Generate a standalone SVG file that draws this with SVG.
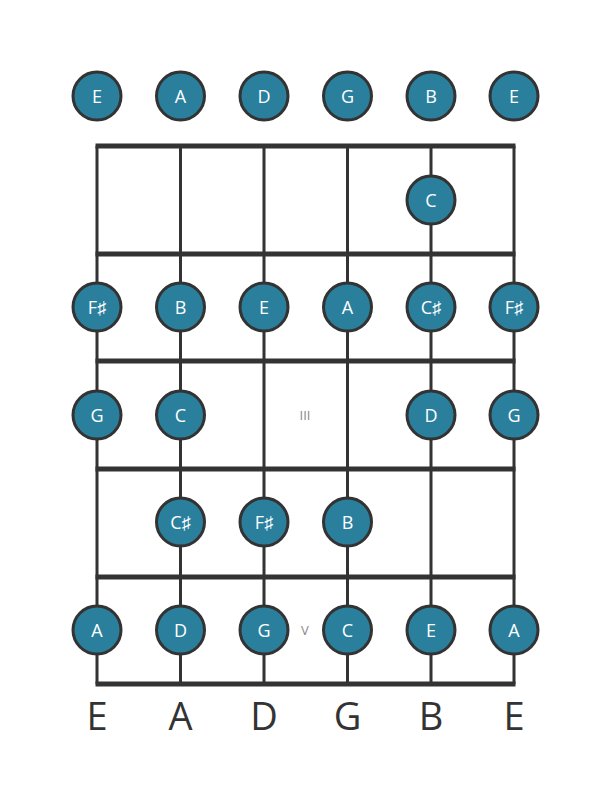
<svg xmlns="http://www.w3.org/2000/svg" width="611" height="801" viewBox="0 0 611 801">
<style>
.str{stroke:#333;stroke-width:3}
.fret{stroke:#333;stroke-width:5}
.n circle{fill:#2a7f9d;stroke:#333;stroke-width:3}
.n text{fill:#fff;font-family:"Open Sans",sans-serif;font-size:18px;text-anchor:middle;dominant-baseline:central}
.lbl{fill:#333;font-family:"Open Sans",sans-serif;font-size:38px;text-anchor:middle}
.pos{fill:#888;font-family:"Open Sans",sans-serif;font-size:13px;text-anchor:middle;dominant-baseline:central}
</style>
<rect width="611" height="801" fill="#fff"/>
<g id="connectors">
<line class="str" x1="97" y1="146" x2="97" y2="684"/>
<line class="str" x1="180.5" y1="146" x2="180.5" y2="684"/>
<line class="str" x1="264" y1="146" x2="264" y2="684"/>
<line class="str" x1="347.5" y1="146" x2="347.5" y2="684"/>
<line class="str" x1="431" y1="146" x2="431" y2="684"/>
<line class="str" x1="514" y1="146" x2="514" y2="684"/>
<line class="fret" x1="95.5" y1="146" x2="515.5" y2="146"/>
<line class="fret" x1="95.5" y1="254" x2="515.5" y2="254"/>
<line class="fret" x1="95.5" y1="361" x2="515.5" y2="361"/>
<line class="fret" x1="95.5" y1="469" x2="515.5" y2="469"/>
<line class="fret" x1="95.5" y1="577" x2="515.5" y2="577"/>
<line class="fret" x1="95.5" y1="684" x2="515.5" y2="684"/>
</g>
<text class="pos" x="305" y="415">III</text>
<text class="pos" x="305" y="630">V</text>
<g id="open-E1" class="n"><circle cx="97" cy="96" r="24"/><text x="97" y="96">E</text></g>
<g id="open-A" class="n"><circle cx="180.5" cy="96" r="24"/><text x="180.5" y="96">A</text></g>
<g id="open-D" class="n"><circle cx="264" cy="96" r="24"/><text x="264" y="96">D</text></g>
<g id="open-G" class="n"><circle cx="347.5" cy="96" r="24"/><text x="347.5" y="96">G</text></g>
<g id="open-B" class="n"><circle cx="431" cy="96" r="24"/><text x="431" y="96">B</text></g>
<g id="open-E2" class="n"><circle cx="514" cy="96" r="24"/><text x="514" y="96">E</text></g>
<g id="f1-B" class="n"><circle cx="431" cy="200" r="24"/><text x="431" y="200">C</text></g>
<g id="f2-E1" class="n"><circle cx="97" cy="307" r="24"/><text x="97" y="307">F♯</text></g>
<g id="f2-A" class="n"><circle cx="180.5" cy="307" r="24"/><text x="180.5" y="307">B</text></g>
<g id="f2-D" class="n"><circle cx="264" cy="307" r="24"/><text x="264" y="307">E</text></g>
<g id="f2-G" class="n"><circle cx="347.5" cy="307" r="24"/><text x="347.5" y="307">A</text></g>
<g id="f2-B" class="n"><circle cx="431" cy="307" r="24"/><text x="431" y="307">C♯</text></g>
<g id="f2-E2" class="n"><circle cx="514" cy="307" r="24"/><text x="514" y="307">F♯</text></g>
<g id="f3-E1" class="n"><circle cx="97" cy="415" r="24"/><text x="97" y="415">G</text></g>
<g id="f3-A" class="n"><circle cx="180.5" cy="415" r="24"/><text x="180.5" y="415">C</text></g>
<g id="f3-B" class="n"><circle cx="431" cy="415" r="24"/><text x="431" y="415">D</text></g>
<g id="f3-E2" class="n"><circle cx="514" cy="415" r="24"/><text x="514" y="415">G</text></g>
<g id="f4-A" class="n"><circle cx="180.5" cy="522" r="24"/><text x="180.5" y="522">C♯</text></g>
<g id="f4-D" class="n"><circle cx="264" cy="522" r="24"/><text x="264" y="522">F♯</text></g>
<g id="f4-G" class="n"><circle cx="347.5" cy="522" r="24"/><text x="347.5" y="522">B</text></g>
<g id="f5-E1" class="n"><circle cx="97" cy="630" r="24"/><text x="97" y="630">A</text></g>
<g id="f5-A" class="n"><circle cx="180.5" cy="630" r="24"/><text x="180.5" y="630">D</text></g>
<g id="f5-D" class="n"><circle cx="264" cy="630" r="24"/><text x="264" y="630">G</text></g>
<g id="f5-G" class="n"><circle cx="347.5" cy="630" r="24"/><text x="347.5" y="630">C</text></g>
<g id="f5-B" class="n"><circle cx="431" cy="630" r="24"/><text x="431" y="630">E</text></g>
<g id="f5-E2" class="n"><circle cx="514" cy="630" r="24"/><text x="514" y="630">A</text></g>
<g id="labels">
<text class="lbl" x="97" y="730">E</text>
<text class="lbl" x="180.5" y="730">A</text>
<text class="lbl" x="264" y="730">D</text>
<text class="lbl" x="347.5" y="730">G</text>
<text class="lbl" x="431" y="730">B</text>
<text class="lbl" x="514" y="730">E</text>
</g>
</svg>
